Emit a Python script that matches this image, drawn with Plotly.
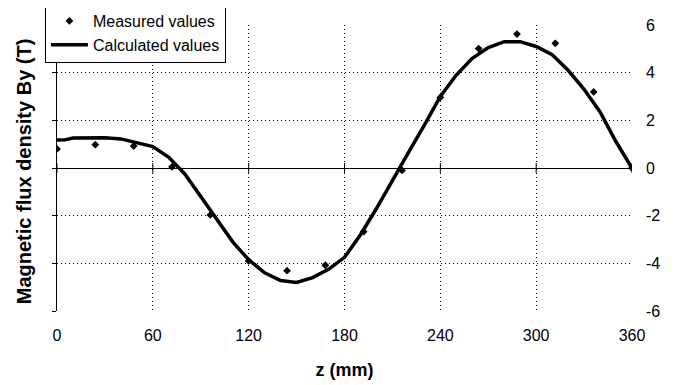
import plotly.graph_objects as go

# Measured values
z_meas = [0, 24, 48, 72, 96, 120, 144, 168, 192, 216, 240, 264, 288, 312, 336, 360]
b_meas = [0.80, 0.98, 0.92, 0.05, -1.97, -3.9, -4.31, -4.08, -2.67, -0.1, 2.96, 5.01, 5.62, 5.23, 3.19, 0.0]

# Calculated values
z_calc = [0, 5, 10, 20, 30, 40, 50, 60, 70, 80, 90, 100, 110, 120, 130, 140, 150, 160,
          170, 180, 190, 200, 210, 220, 230, 240, 250, 260, 270, 280, 290, 300, 310,
          320, 330, 340, 350, 360]
b_calc = [1.17, 1.18, 1.26, 1.27, 1.27, 1.22, 1.05, 0.9, 0.45, -0.25, -1.2, -2.15, -3.1,
          -3.85, -4.4, -4.72, -4.8, -4.6, -4.25, -3.75, -2.8, -1.7, -0.5, 0.65, 1.8, 3.0,
          3.9, 4.6, 5.05, 5.3, 5.3, 5.1, 4.75, 4.1, 3.3, 2.35, 1.1, 0.0]

x_ticks = [0, 60, 120, 180, 240, 300, 360]
y_ticks = [-6, -4, -2, 0, 2, 4, 6]
y_tick_text = ["-6", "-4", "-2", "0", "2", "4", "6"]

FONT = "Liberation Sans, Arial, sans-serif"

fig = go.Figure()
fig.add_trace(go.Scatter(
    x=z_meas, y=b_meas, mode="markers", name="Measured values",
    marker=dict(symbol="diamond", size=6, color="black"),
))
fig.add_trace(go.Scatter(
    x=z_calc, y=b_calc, mode="lines", name="Calculated values",
    line=dict(color="black", width=3.5),
))
# small tick marks on the zero line
fig.add_trace(go.Scatter(
    x=x_ticks, y=[0] * len(x_ticks), mode="markers", showlegend=False, hoverinfo="skip",
    marker=dict(symbol="line-ns", size=7, line=dict(color="black", width=1)),
))
# invisible trace for the right-hand label axis
fig.add_trace(go.Scatter(
    x=[0], y=[0], yaxis="y2", mode="markers", showlegend=False, hoverinfo="skip",
    marker=dict(opacity=0),
))

grid = dict(showgrid=True, gridcolor="black", gridwidth=1, griddash="1px,3px")

# the page body adds an 8px offset, so margins are reduced accordingly
fig.update_layout(
    width=678, height=385,
    margin=dict(l=49, r=54, t=17, b=82, autoexpand=False),
    paper_bgcolor="white", plot_bgcolor="white",
    font=dict(family=FONT, size=16, color="black"),
    xaxis=dict(
        range=[0, 360], tickvals=x_ticks, ticks="", showline=False,
        zeroline=False, ticklabelstandoff=13, automargin=False,
        title=dict(text="<b>z (mm)</b>", font=dict(size=18), standoff=20),
        **grid,
    ),
    yaxis=dict(
        range=[-6, 6], tickvals=y_ticks, showticklabels=False,
        showline=True, linecolor="black", linewidth=1,
        ticks="outside", ticklen=4, tickcolor="black", automargin=False,
        zeroline=True, zerolinecolor="black", zerolinewidth=1,
        **grid,
    ),
    yaxis2=dict(
        range=[-6, 6], tickvals=y_ticks, ticktext=y_tick_text,
        overlaying="y", side="right",
        showgrid=False, zeroline=False, showline=False, ticks="",
        ticklabelstandoff=13, automargin=False,
    ),
    legend=dict(
        x=-0.021, y=1.077, xanchor="left", yanchor="top",
        bgcolor="white", bordercolor="black", borderwidth=1,
        font=dict(size=16), tracegroupgap=0, itemwidth=37,
    ),
    annotations=[dict(
        text="<b>Magnetic flux density By (T)</b>", textangle=-90,
        xref="paper", yref="paper", x=-0.0585, y=0.49,
        xanchor="center", yanchor="middle",
        showarrow=False, font=dict(size=20),
    )],
)

fig.write_html("out.html")
